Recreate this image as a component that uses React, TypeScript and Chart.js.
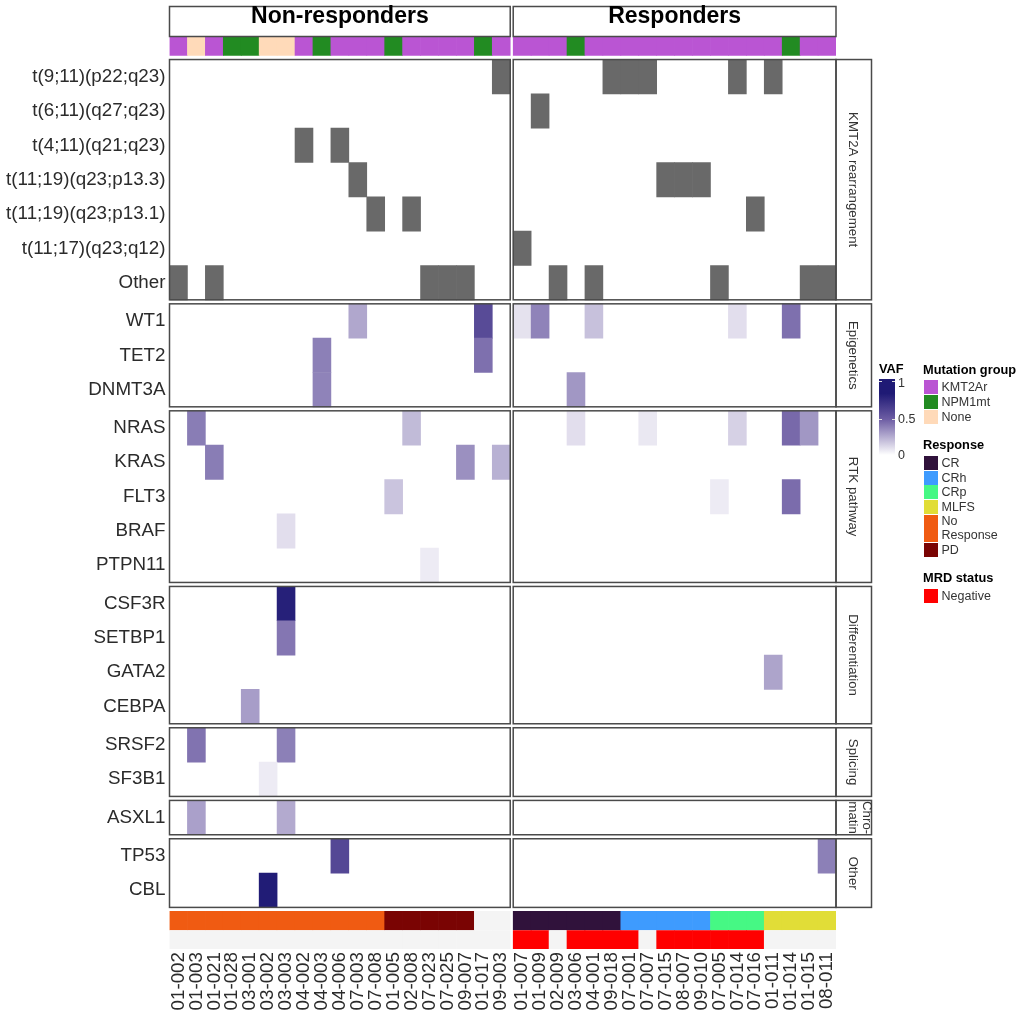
import React, { useEffect, useRef } from 'react';
import { Chart, registerables } from 'chart.js';

Chart.register(...registerables);

const FONT = '"Liberation Sans", Arial, sans-serif';

// samples, in plot order
const nonResponders = ['01-002', '01-003', '01-021', '01-028', '03-001', '03-002', '03-003', '04-002', '04-003', '04-006', '07-003', '07-008', '01-005', '02-008', '07-023', '07-025', '09-007', '01-017', '09-003'];
const responders = ['01-007', '01-009', '02-009', '03-006', '04-001', '09-018', '07-001', '07-007', '07-015', '08-007', '09-010', '07-005', '07-014', '07-016', '01-011', '01-014', '01-015', '08-011'];

// annotation strips
const mutationGroupNR = ['KMT2Ar', 'None', 'KMT2Ar', 'NPM1mt', 'NPM1mt', 'None', 'None', 'KMT2Ar', 'NPM1mt', 'KMT2Ar', 'KMT2Ar', 'KMT2Ar', 'NPM1mt', 'KMT2Ar', 'KMT2Ar', 'KMT2Ar', 'KMT2Ar', 'NPM1mt', 'KMT2Ar'];
const mutationGroupR = ['KMT2Ar', 'KMT2Ar', 'KMT2Ar', 'NPM1mt', 'KMT2Ar', 'KMT2Ar', 'KMT2Ar', 'KMT2Ar', 'KMT2Ar', 'KMT2Ar', 'KMT2Ar', 'KMT2Ar', 'KMT2Ar', 'KMT2Ar', 'KMT2Ar', 'NPM1mt', 'KMT2Ar', 'KMT2Ar'];
const responseNR = ['No Response', 'No Response', 'No Response', 'No Response', 'No Response', 'No Response', 'No Response', 'No Response', 'No Response', 'No Response', 'No Response', 'No Response', 'PD', 'PD', 'PD', 'PD', 'PD', null, null];
const responseR = ['CR', 'CR', 'CR', 'CR', 'CR', 'CR', 'CRh', 'CRh', 'CRh', 'CRh', 'CRh', 'CRp', 'CRp', 'CRp', 'MLFS', 'MLFS', 'MLFS', 'MLFS'];
const mrdNegativeR = ['01-007', '01-009', '03-006', '04-001', '09-018', '07-001', '07-015', '08-007', '09-010', '07-005', '07-014', '07-016'];

// rows per panel
const kmt2aRows = ['t(9;11)(p22;q23)', 't(6;11)(q27;q23)', 't(4;11)(q21;q23)', 't(11;19)(q23;p13.3)', 't(11;19)(q23;p13.1)', 't(11;17)(q23;q12)', 'Other'];
const epigeneticRows = ['WT1', 'TET2', 'DNMT3A'];
const rtkRows = ['NRAS', 'KRAS', 'FLT3', 'BRAF', 'PTPN11'];
const differentiationRows = ['CSF3R', 'SETBP1', 'GATA2', 'CEBPA'];
const splicingRows = ['SRSF2', 'SF3B1'];
const chromatinRows = ['ASXL1'];
const otherRows = ['TP53', 'CBL'];

// [row, sample]
const kmt2aCells: [string, string][] = [
    ['t(9;11)(p22;q23)', '09-003'], ['t(9;11)(p22;q23)', '09-018'], ['t(9;11)(p22;q23)', '07-001'], ['t(9;11)(p22;q23)', '07-007'], ['t(9;11)(p22;q23)', '07-014'], ['t(9;11)(p22;q23)', '01-011'],
    ['t(6;11)(q27;q23)', '01-009'],
    ['t(4;11)(q21;q23)', '04-002'], ['t(4;11)(q21;q23)', '04-006'],
    ['t(11;19)(q23;p13.3)', '07-003'], ['t(11;19)(q23;p13.3)', '07-015'], ['t(11;19)(q23;p13.3)', '08-007'], ['t(11;19)(q23;p13.3)', '09-010'],
    ['t(11;19)(q23;p13.1)', '07-008'], ['t(11;19)(q23;p13.1)', '02-008'], ['t(11;19)(q23;p13.1)', '07-016'],
    ['t(11;17)(q23;q12)', '01-007'],
    ['Other', '01-002'], ['Other', '01-021'], ['Other', '07-023'], ['Other', '07-025'], ['Other', '09-007'], ['Other', '02-009'], ['Other', '04-001'], ['Other', '07-005'], ['Other', '01-015'], ['Other', '08-011'],
];

// [gene, sample, VAF]
const epigeneticCells: [string, string, number][] = [
    ['WT1', '07-003', 0.27], ['WT1', '01-017', 0.59], ['WT1', '01-007', 0.09], ['WT1', '01-009', 0.38], ['WT1', '04-001', 0.19], ['WT1', '07-014', 0.1], ['WT1', '01-014', 0.44],
    ['TET2', '04-003', 0.39], ['TET2', '01-017', 0.44],
    ['DNMT3A', '04-003', 0.38], ['DNMT3A', '03-006', 0.32],
];
const rtkCells: [string, string, number][] = [
    ['NRAS', '01-003', 0.4], ['NRAS', '02-008', 0.21], ['NRAS', '03-006', 0.1], ['NRAS', '07-007', 0.07], ['NRAS', '07-014', 0.14], ['NRAS', '01-014', 0.46], ['NRAS', '01-015', 0.32],
    ['KRAS', '01-021', 0.4], ['KRAS', '09-007', 0.34], ['KRAS', '09-003', 0.24],
    ['FLT3', '01-005', 0.18], ['FLT3', '07-005', 0.06], ['FLT3', '01-014', 0.45],
    ['BRAF', '03-003', 0.1],
    ['PTPN11', '07-023', 0.06],
];
const differentiationCells: [string, string, number][] = [
    ['CSF3R', '03-003', 0.82], ['SETBP1', '03-003', 0.42], ['GATA2', '01-011', 0.28], ['CEBPA', '03-001', 0.3],
];
const splicingCells: [string, string, number][] = [
    ['SRSF2', '01-003', 0.43], ['SRSF2', '03-003', 0.39], ['SF3B1', '03-002', 0.06],
];
const chromatinCells: [string, string, number][] = [
    ['ASXL1', '01-003', 0.29], ['ASXL1', '03-003', 0.26],
];
const otherCells: [string, string, number][] = [
    ['TP53', '04-006', 0.61], ['TP53', '08-011', 0.39], ['CBL', '03-002', 0.84],
];

const mutationColors: Record<string, string> = { KMT2Ar: '#BA55D3', NPM1mt: '#228B22', None: '#FFDAB9' };
const responseColors: Record<string, string> = { CR: '#30123B', CRh: '#3E9BFE', CRp: '#46F884', MLFS: '#E1DD37', 'No Response': '#F05B12', PD: '#7A0403' };
const MRD_COLOR = '#FF0000';
const MISSING = '#F4F4F4';
const REARRANGED = '#696969';

const panels = [
    { title: ['KMT2A rearrangement'], rows: kmt2aRows },
    { title: ['Epigenetics'], rows: epigeneticRows },
    { title: ['RTK pathway'], rows: rtkRows },
    { title: ['Differentiation'], rows: differentiationRows },
    { title: ['Splicing'], rows: splicingRows },
    { title: ['Chro-', 'matin'], rows: chromatinRows },
    { title: ['Other'], rows: otherRows },
];

// vertical layout in row units
const STRIP = 0.54;
const GAP = 0.1166;
const rowTop: Record<string, number> = {};
let cursor = STRIP + GAP;
const panelSpans = panels.map((p) => {
    const top = cursor;
    p.rows.forEach((r, i) => {
        rowTop[r] = top + i;
    });
    cursor += p.rows.length + GAP;
    return { top, bottom: top + p.rows.length, title: p.title };
});
const responseTop = cursor;
const mrdTop = responseTop + STRIP + 0.015;
const yMax = mrdTop + STRIP;

// horizontal layout in column units
const COL_GAP = 0.167;
const rightStart = nonResponders.length + COL_GAP;
const xMax = rightStart + responders.length;
const xOf = (s: string) => {
    const i = nonResponders.indexOf(s);
    return i >= 0 ? i + 0.5 : rightStart + responders.indexOf(s) + 0.5;
};

const mix = (a: number[], b: number[], t: number) => a.map((v, i) => Math.round(v + (b[i] - v) * t));
const vafColor = (v: number) => {
    const low = [255, 255, 255];
    const mid = [108, 92, 163];
    const high = [31, 26, 117];
    const c = v < 0.5 ? mix(low, mid, v / 0.5) : mix(mid, high, Math.min((v - 0.5) / 0.35, 1));
    return `rgb(${c[0]},${c[1]},${c[2]})`;
};

const allSamples = [...nonResponders, ...responders];
const allResponse = [...responseNR, ...responseR];
const allMutation = [...mutationGroupNR, ...mutationGroupR];

const bars: { x: number; y: number[]; color: string }[] = [];
allSamples.forEach((s, i) => {
    bars.push({ x: xOf(s), y: [0, STRIP], color: mutationColors[allMutation[i]] });
    const resp = allResponse[i];
    bars.push({ x: xOf(s), y: [responseTop, responseTop + STRIP], color: resp ? responseColors[resp] : MISSING });
    bars.push({ x: xOf(s), y: [mrdTop, mrdTop + STRIP], color: mrdNegativeR.includes(s) ? MRD_COLOR : MISSING });
});
kmt2aCells.forEach(([r, s]) => {
    bars.push({ x: xOf(s), y: [rowTop[r], rowTop[r] + 1], color: REARRANGED });
});
[epigeneticCells, rtkCells, differentiationCells, splicingCells, chromatinCells, otherCells].forEach((cells) => {
    cells.forEach(([r, s, v]) => {
        bars.push({ x: xOf(s), y: [rowTop[r], rowTop[r] + 1], color: vafColor(v) });
    });
});

const rowLabels = panels.flatMap((p) => p.rows);
const rowCentres = rowLabels.map((r) => rowTop[r] + 0.5);

const framePlugin = {
    id: 'facetFrames',
    afterDatasetsDraw(chart: any) {
        const { ctx, scales } = chart;
        const x = scales.x;
        const y = scales.y;
        const l0 = x.getPixelForValue(0);
        const l1 = x.getPixelForValue(nonResponders.length);
        const r0 = x.getPixelForValue(rightStart);
        const r1 = x.getPixelForValue(xMax);
        const stripRight = r1 + 35.5;
        ctx.save();
        ctx.strokeStyle = '#4a4a4a';
        ctx.lineWidth = 1.5;
        panelSpans.forEach((p) => {
            const t = y.getPixelForValue(p.top);
            const b = y.getPixelForValue(p.bottom);
            ctx.strokeRect(l0, t, l1 - l0, b - t);
            ctx.strokeRect(r0, t, r1 - r0, b - t);
            ctx.strokeRect(r1, t, stripRight - r1, b - t);
            ctx.fillStyle = '#333333';
            ctx.font = `13.3px ${FONT}`;
            ctx.textAlign = 'center';
            ctx.textBaseline = 'middle';
            const cx = (r1 + stripRight) / 2;
            const cy = (t + b) / 2;
            p.title.forEach((line, i) => {
                ctx.save();
                const dx = p.title.length > 1 ? (i === 0 ? 13 : -1) : -1;
                ctx.translate(cx + dx, cy);
                ctx.rotate(Math.PI / 2);
                ctx.fillText(line, 0, 0);
                ctx.restore();
            });
        });
        ctx.strokeRect(l0, 6.5, l1 - l0, 30);
        ctx.strokeRect(r0, 6.5, r1 - r0, 30);
        ctx.fillStyle = '#000000';
        ctx.font = `bold 23px ${FONT}`;
        ctx.textAlign = 'center';
        ctx.textBaseline = 'middle';
        ctx.fillText('Non-responders', (l0 + l1) / 2, 17);
        ctx.fillText('Responders', (r0 + r1) / 2, 17);
        ctx.restore();
    },
};

const legendText: React.CSSProperties = { position: 'absolute', fontFamily: FONT, fontSize: 12.5, color: '#333', lineHeight: '14px', whiteSpace: 'pre' };
const legendTitle: React.CSSProperties = { position: 'absolute', fontFamily: FONT, fontSize: 12.8, fontWeight: 'bold', color: '#000', lineHeight: '14px', whiteSpace: 'pre' };

const Key = ({ top, height = 14, color, label }: { top: number; height?: number; color: string; label: string }) => (
    <>
        <div style={{ position: 'absolute', left: 923.5, top, width: 14, height, background: color }} />
        <div style={{ ...legendText, left: 941.5, top: top + (height - (label.includes('\n') ? 28 : 14)) / 2 }}>{label}</div>
    </>
);

const Legend = () => (
    <>
        <div style={{ ...legendTitle, left: 879, top: 362 }}>VAF</div>
        <div
            style={{
                position: 'absolute',
                left: 879,
                top: 379,
                width: 16,
                height: 76,
                background: 'linear-gradient(to top, #ffffff 0%, #6C5CA3 47.5%, #1F1A75 81%, #1F1A75 100%)',
            }}
        />
        {[381, 418.5].map((t) => (
            <React.Fragment key={t}>
                <div style={{ position: 'absolute', left: 879, top: t, width: 3, height: 1, background: '#ddd' }} />
                <div style={{ position: 'absolute', left: 892, top: t, width: 3, height: 1, background: '#ddd' }} />
            </React.Fragment>
        ))}
        <div style={{ ...legendText, left: 898, top: 376 }}>1</div>
        <div style={{ ...legendText, left: 898, top: 412 }}>0.5</div>
        <div style={{ ...legendText, left: 898, top: 448 }}>0</div>

        <div style={{ ...legendTitle, left: 923, top: 363 }}>Mutation group</div>
        <Key top={380} color={mutationColors.KMT2Ar} label="KMT2Ar" />
        <Key top={395} color={mutationColors.NPM1mt} label="NPM1mt" />
        <Key top={409.5} color={mutationColors.None} label="None" />

        <div style={{ ...legendTitle, left: 923, top: 438 }}>Response</div>
        <Key top={456} color={responseColors.CR} label="CR" />
        <Key top={470.5} color={responseColors.CRh} label="CRh" />
        <Key top={485} color={responseColors.CRp} label="CRp" />
        <Key top={500} color={responseColors.MLFS} label="MLFS" />
        <Key top={514.5} height={27.5} color={responseColors['No Response']} label={'No\nResponse'} />
        <Key top={542.5} color={responseColors.PD} label="PD" />

        <div style={{ ...legendTitle, left: 923, top: 571 }}>MRD status</div>
        <Key top={588.5} color={MRD_COLOR} label="Negative" />
    </>
);

const App = () => {
    const canvas = useRef<HTMLCanvasElement>(null);

    useEffect(() => {
        const chart = new Chart(canvas.current as HTMLCanvasElement, {
            type: 'bar',
            data: {
                datasets: [
                    {
                        data: bars as any,
                        parsing: { xAxisKey: 'x', yAxisKey: 'y' },
                        grouped: false,
                        barPercentage: 1,
                        categoryPercentage: 1,
                        borderWidth: 0,
                        backgroundColor: (ctx: any) => ctx.raw.color,
                    } as any,
                ],
            },
            options: {
                animation: false,
                responsive: false,
                devicePixelRatio: 1,
                layout: { padding: { top: 37, right: 188, left: 0, bottom: 0 } },
                plugins: { legend: { display: false }, tooltip: { enabled: false }, title: { display: false } },
                scales: {
                    x: {
                        type: 'linear',
                        offset: false,
                        min: 0,
                        max: xMax,
                        grid: { display: false, drawTicks: false },
                        border: { display: false },
                        afterFit: (scale: any) => {
                            scale.height = 75;
                        },
                        afterBuildTicks: (scale: any) => {
                            scale.ticks = allSamples.map((s) => ({ value: xOf(s) }));
                        },
                        ticks: {
                            autoSkip: false,
                            minRotation: 90,
                            maxRotation: 90,
                            padding: 3,
                            color: '#2b2b2b',
                            font: { family: FONT, size: 18.8 },
                            callback: (_v: any, i: number) => allSamples[i],
                        },
                    },
                    y: {
                        type: 'linear',
                        reverse: true,
                        min: 0,
                        max: yMax,
                        grid: { display: false, drawTicks: false },
                        border: { display: false },
                        afterFit: (scale: any) => {
                            scale.width = 169.5;
                        },
                        afterBuildTicks: (scale: any) => {
                            scale.ticks = rowCentres.map((v) => ({ value: v }));
                        },
                        ticks: {
                            autoSkip: false,
                            padding: 4,
                            color: '#2b2b2b',
                            font: { family: FONT, size: 18.8 },
                            callback: (_v: any, i: number) => rowLabels[i],
                        },
                    },
                },
            },
            plugins: [framePlugin],
        });
        return () => chart.destroy();
    }, []);

    return (
        <div style={{ position: 'absolute', left: 0, top: 0, width: 1024, height: 1024, background: '#fff' }}>
            <canvas ref={canvas} width={1024} height={1024} />
            <Legend />
        </div>
    );
};

export default App;
